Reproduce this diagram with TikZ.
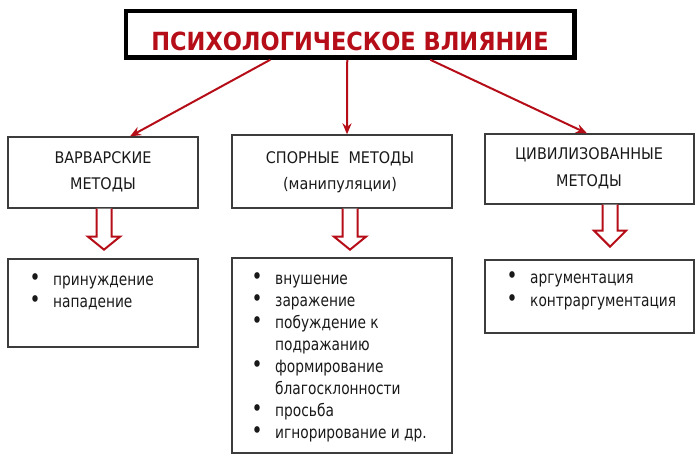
\documentclass[tikz,border=0pt]{standalone}
\usepackage{fontspec}
\setmainfont{DejaVu Sans Condensed}
\newfontfamily\listfont{DejaVu Sans Condensed}[FakeStretch=0.9]
\usetikzlibrary{calc,arrows.meta}
\definecolor{dred}{RGB}{182,14,24}
\definecolor{boxgray}{RGB}{60,60,60}
\tikzset{
  titlebox/.style={draw=black,line width=4.5pt,minimum width=448.5pt,minimum height=46.7pt,inner sep=0pt},
  catbox/.style={draw=boxgray,line width=1.3pt,inner sep=0pt},
  labeltext/.style={align=center,inner sep=0pt,text=black!90},
  listtext/.style={inner sep=0pt,text=black!90},
  redarrow/.style={draw=dred,line width=2pt,-{Stealth[length=11pt,width=9pt]}},
  hollow/.style={draw=dred,line width=2pt,fill=white,line join=miter}
}
\newcommand{\bl}{\makebox[18pt][l]{\makebox[0pt]{\fontsize{23}{22}\selectfont •}}}
\begin{document}
\begin{tikzpicture}[x=1pt,y=-1pt]
\useasboundingbox (0,0) rectangle (700,459);
% title
\node[titlebox] (title) at (350.25,34.15) {};
\node[anchor=base,inner sep=0pt,text=dred,font=\fontsize{25}{30}\selectfont\bfseries] (tt) at (350,50) {ПСИХОЛОГИЧЕСКОЕ ВЛИЯНИЕ};
% category boxes
\node[catbox,minimum width=190pt,minimum height=71pt] (b1) at (103,172.5) {};
\node[catbox,minimum width=220pt,minimum height=73pt] (b2) at (342,171.5) {};
\node[catbox,minimum width=209pt,minimum height=70pt] (b3) at (589.5,169) {};
\node[labeltext,anchor=base,font=\fontsize{16}{26}\selectfont] (t1) at (103,189) {ВАРВАРСКИЕ\\МЕТОДЫ};
\node[labeltext,anchor=base,font=\fontsize{16}{25.5}\selectfont] (t2) at (340,189) {СПОРНЫЕ\ \ МЕТОДЫ\\(манипуляции)};
\node[labeltext,anchor=base,font=\fontsize{16}{27}\selectfont] (t3) at (589,186) {ЦИВИЛИЗОВАННЫЕ\\МЕТОДЫ};
% list boxes
\node[catbox,minimum width=190pt,minimum height=88pt] (l1) at (103,303) {};
\node[catbox,minimum width=220pt,minimum height=195pt] (l2) at (342,355.5) {};
\node[catbox,minimum width=209pt,minimum height=73pt] (l3) at (589.5,296.5) {};
\node[listtext,anchor=base west,font=\listfont\fontsize{17}{22.5}\selectfont] (x1) at (35,285) {\begin{tabular}[t]{@{}l@{}l@{}}
\bl&принуждение\\
\bl&нападение
\end{tabular}};
\node[listtext,anchor=base west,font=\listfont\fontsize{17}{22}\selectfont] (x2) at (257,284.5) {\begin{tabular}[t]{@{}l@{}l@{}}
\bl&внушение\\
\bl&заражение\\
\bl&побуждение к\\
&подражанию\\
\bl&формирование\\
&благосклонности\\
\bl&просьба\\
\bl&игнорирование и др.
\end{tabular}};
\node[listtext,anchor=base west,font=\listfont\fontsize{17}{23}\selectfont] (x3) at (512,283.5) {\begin{tabular}[t]{@{}l@{}l@{}}
\bl&аргументация\\
\bl&контраргументация
\end{tabular}};
% red arrows
\draw[redarrow] ($(title.south)+(-80,0)$) -- ($(b1.north)+(27,0)$);
\draw[redarrow] ($(title.south)+(-3,0)$) -- ($(b2.north)+(5,0)$);
\draw[redarrow] ($(title.south)+(80,0)$) -- ($(b3.north)+(-2.5,0)$);
% hollow arrows
\foreach \b/\dx/\hs/\tip in {b1/1/28/41, b2/8/28/41, b3/20.5/26/42}{
  \draw[hollow] ($(\b.south)+(\dx-7.5,0)$) -- ($(\b.south)+(\dx-7.5,\hs)$) -- ($(\b.south)+(\dx-16,\hs)$)
    -- ($(\b.south)+(\dx,\tip)$) -- ($(\b.south)+(\dx+16,\hs)$) -- ($(\b.south)+(\dx+7.5,\hs)$)
    -- ($(\b.south)+(\dx+7.5,0)$);
}
\end{tikzpicture}
\end{document}
